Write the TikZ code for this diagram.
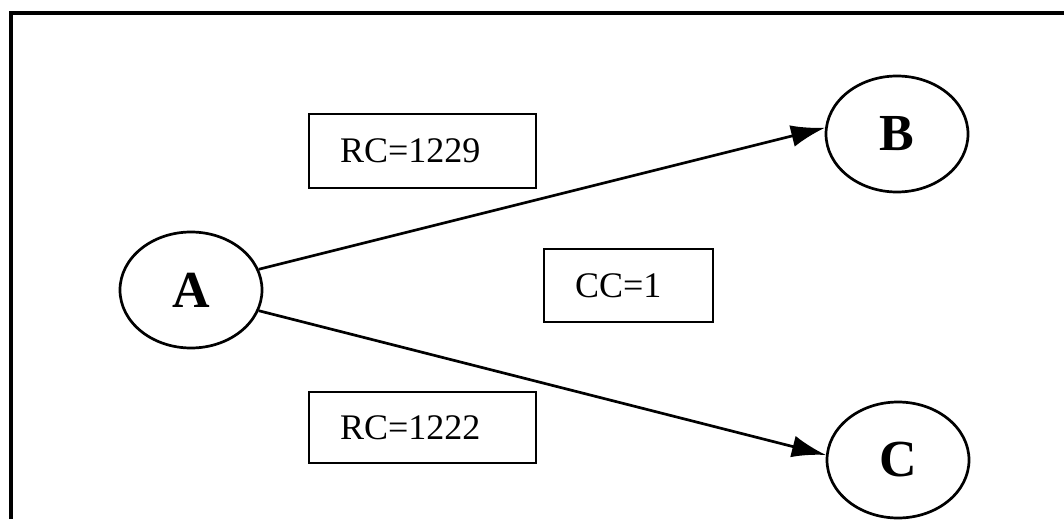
\documentclass[tikz,border=0pt]{standalone}
\usepackage{fontspec}
\setmainfont{Liberation Serif}
\usetikzlibrary{shapes.geometric,arrows.meta}

\tikzset{
    state/.style={draw,ellipse,line width=2.7pt,minimum width=142pt,minimum height=116pt,inner sep=0pt,font=\fontsize{52}{52}\selectfont\bfseries},
    valbox/.style={draw,rectangle,line width=2.3pt,inner xsep=31pt,inner ysep=0pt,align=left,font=\fontsize{36}{36}\selectfont},
    link/.style={line width=2.7pt,-{Latex[length=34pt,width=22pt]}}
}

\begin{document}
\begin{tikzpicture}[x=1pt,y=-1pt]
            \useasboundingbox (0,0) rectangle (1064,519);
            \draw[line width=4pt] (11,519)--(11,13)--(1064,13);

            \node[state] (A) at (191,290) {A};
            \node[state] (B) at (897,134) {B};
            \node[state] (C) at (898,460) {C};

            \node[valbox,text width=165pt,minimum height=74pt] (rcb) at (422.5,151) {RC=1229};
            \node[valbox,text width=107pt,minimum height=73pt] (cc) at (628.5,285.5) {CC=1};
            \node[valbox,text width=165pt,minimum height=71pt] (rcc) at (422.5,427.5) {RC=1222};

            \draw[link] (A.17)--(B.175);
            \draw[link] (A.-17)--(C.176);
        \end{tikzpicture}
\end{document}
